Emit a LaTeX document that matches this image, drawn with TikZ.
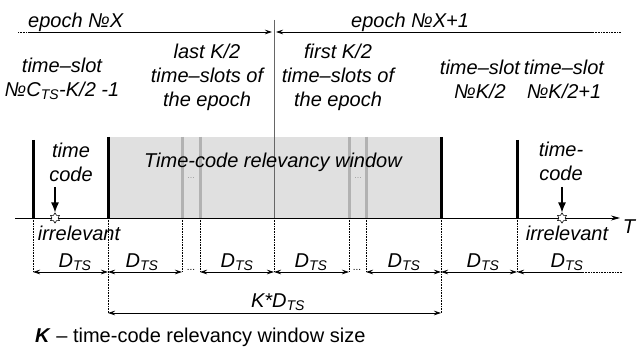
\documentclass[tikz,border=0pt]{standalone}
\usepackage{fontspec}
\setmainfont{Liberation Sans}
\usetikzlibrary{arrows.meta,shapes.geometric}
\begin{document}
\begin{tikzpicture}[x=1pt,y=-1pt,
  txt/.style={inner sep=0pt, align=center, font=\fontsize{20}{24}\selectfont\itshape},
  bar/.style={line width=3pt},
  graybar/.style={line width=3pt, draw=black!30},
  dimarr/.style={{Stealth[length=7pt,width=4.5pt]}-{Stealth[length=7pt,width=4.5pt]}, line width=0.7pt},
  onearr/.style={-{Stealth[length=7pt,width=4.5pt]}, line width=0.7pt},
  vdot/.style={densely dotted, line width=0.6pt},
  tcarr/.style={-{Latex[length=10pt,width=8pt]}, line width=1.2pt},
  starn/.style={star, star points=6, star point ratio=1.6, draw, fill=white, inner sep=0pt, minimum size=10pt, line width=0.6pt},
  tiny/.style={inner sep=0pt, font=\fontsize{9}{10}\selectfont, text=black!40}
]
\useasboundingbox (0,0) rectangle (638,352);
\fill[white] (0,0) rectangle (638,352);

% window
\fill[black!12] (108,137) rectangle (441,218);
\node[tiny] (dotsA) at (191,178) {...};
\node[tiny] (dotsB) at (358,178) {...};

% epoch line
\coordinate (eL0) at (18,32);
\coordinate (eL1) at (30,32);
\coordinate (eM1) at (272,32);
\coordinate (eM2) at (276,32);
\coordinate (eR1) at (593,32);
\coordinate (eR0) at (621,32);
\draw[vdot] (eL0) -- (eL1);
\draw[onearr] (eL1) -- (eM1);
\draw[onearr] (eR1) -- (eM2);
\draw[vdot] (eR1) -- (eR0);
\node[txt, anchor=base west] (ep1) at (28,28) {epoch №X};
\node[txt, anchor=base west] (ep2) at (351,28) {epoch №X+1};

% center divider
\coordinate (cTop) at (274,20);
\coordinate (cAx) at (274,218);
\draw[black!60, line width=0.8pt] (cTop) -- (cAx);

% slot bars
\foreach \n/\x/\t in {a/33/140, b/108/137, g/441/137, h/517/140} {
  \coordinate (\n t) at (\x,\t);
  \coordinate (\n b) at (\x,218);
  \coordinate (\n d) at (\x,272);
}
\foreach \n/\x in {c/182, d/200, e/349, f/366} {
  \coordinate (\n t) at (\x,137);
  \coordinate (\n b) at (\x,218);
  \coordinate (\n d) at (\x,272);
}
\coordinate (md) at (274,272);
\draw[bar] (at) -- (ab);
\draw[bar] (bt) -- (bb);
\draw[bar] (gt) -- (gb);
\draw[bar] (ht) -- (hb);
\draw[graybar] (ct) -- (cb);
\draw[graybar] (dt) -- (db);
\draw[graybar] (et) -- (eb);
\draw[graybar] (ft) -- (fb);

% axis
\coordinate (ax0) at (15,218);
\coordinate (ax1) at (620,218);
\draw[-{Stealth[length=9pt,width=5pt]}, line width=0.8pt] (ax0) -- (ax1);
\node[txt] (T) at (629,227) {T};

% dotted verticals
\coordinate (bK) at (108,313);
\coordinate (gK) at (441,313);
\draw[vdot] (ab) -- (ad);
\draw[vdot] (bb) -- (bK);
\draw[vdot] (cb) -- (cd);
\draw[vdot] (db) -- (dd);
\draw[vdot] (cAx) -- (md);
\draw[vdot] (eb) -- (ed);
\draw[vdot] (fb) -- (fd);
\draw[vdot] (gb) -- (gK);
\draw[vdot] (hb) -- (hd);

% dimension arrows
\draw[dimarr] (ad) -- (bd);
\draw[dimarr] (bd) -- (cd);
\draw[dimarr] (dd) -- (md);
\draw[dimarr] (md) -- (ed);
\draw[dimarr] (fd) -- (gd);
\draw[dimarr] (gd) -- (hd);
\coordinate (lastd) at (583,272);
\coordinate (lastd2) at (622,272);
\draw[onearr] (lastd) -- (hd);
\draw[vdot] (lastd) -- (lastd2);
\node[inner sep=0pt, font=\fontsize{10}{10}\selectfont] (dd1) at (191,270) {...};
\node[inner sep=0pt, font=\fontsize{10}{10}\selectfont] (dd2) at (357,270) {...};
\newcommand{\DTS}{D\textsubscript{TS}}
\foreach \x/\n in {75/1,142/2,237/3,311/4,404/5,483/6,567/7} {
  \node[txt] (D\n) at (\x,262) {\DTS};
}
\draw[dimarr] (bK) -- (gK);
\node[txt] (KD) at (278,302) {K*\DTS};

% header texts
\node[txt] (ts1) at (62,79) {time–slot\\№C\textsubscript{TS}-K/2 -1};
\node[txt] (last) at (207,77) {last K/2\\time–slots of\\the epoch};
\node[txt] (first) at (338,77) {first K/2\\time–slots of\\the epoch};
\node[txt] (ts2) at (480,79) {time–slot\\№K/2};
\node[txt] (ts3) at (564,79) {time–slot\\№K/2+1};

\node[txt] (win) at (273,162) {Time-code relevancy window};

% time codes
\node[txt] (tc1) at (71,162) {time\\code};
\node[txt] (tc2) at (561,161) {time-\\code};
\node[starn] (s1) at (55,218) {};
\node[starn] (s2) at (562,218) {};
\coordinate (tc1a) at (55,187);
\coordinate (tc2a) at (562,187);
\draw[tcarr] (tc1a) -- (s1.north);
\draw[tcarr] (tc2a) -- (s2.north);
\node[txt] (irr1) at (79,233) {irrelevant};
\node[txt] (irr2) at (567,233) {irrelevant};

% legend
\node[txt, anchor=west, font=\fontsize{20}{24}\selectfont] (leg) at (35,337) {\textbf{\textit{K}} – time-code relevancy window size};
\end{tikzpicture}
\end{document}
